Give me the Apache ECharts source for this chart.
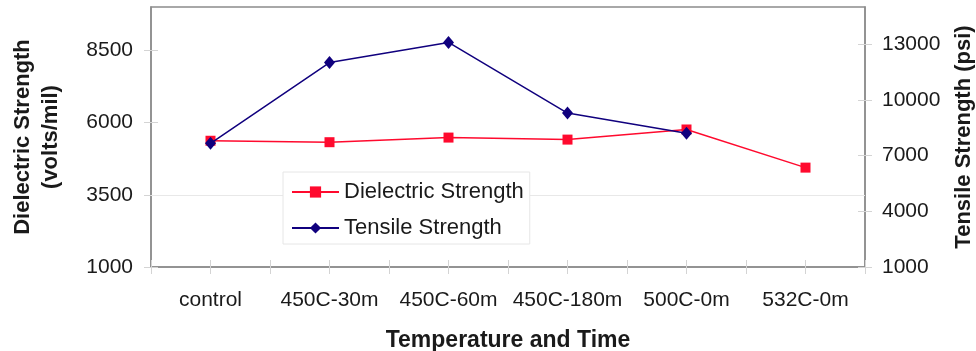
<!DOCTYPE html>
<html>
<head>
<meta charset="utf-8">
<script src="https://cdn.jsdelivr.net/npm/echarts@6/dist/echarts.min.js"></script>
<style>
  html, body { margin: 0; padding: 0; background: #fff; }
  #chart { width: 976px; height: 351px; }
</style>
</head>
<body>
<div id="chart"></div>
<script>
// Heat-treatment conditions along the x axis
const categories = ['control', '450C-30m', '450C-60m', '450C-180m', '500C-0m', '532C-0m'];
// Dielectric strength, volts/mil (left axis)
const dielectric = [5370, 5320, 5480, 5410, 5760, 4440];
// Tensile strength, psi (right axis); no value for the last condition
const tensile = [7660, 12010, 13090, 9290, 8200, null];
// Axis tick values
const leftTicks = [1000, 3500, 6000, 8500];
const rightTicks = [1000, 4000, 7000, 10000, 13000];
const gridLineValue = 3500;

const FONT = '"Liberation Sans", Arial, sans-serif';
const AXIS_GREY = '#8c8c8c';
const TICK_GREY = '#d4d4d4';
const TEXT = '#1a1a1a';
const RED = '#ff0a2e';
const NAVY = '#10007e';

const plain = v => String(v);

function xAxisTicks(alignCenter, inside) {
  return {
    type: 'category', data: categories, position: 'bottom', boundaryGap: true,
    axisLine: { show: false }, axisLabel: { show: false }, splitLine: { show: false },
    axisTick: { show: true, interval: 0, alignWithLabel: alignCenter, inside: inside,
                length: 7, lineStyle: { color: TICK_GREY, width: 1 } }
  };
}
function yAxisTicks(pos, min, max, interval, ticks) {
  return {
    type: 'value', position: pos, min: min, max: max, interval: interval,
    axisLine: { show: false }, axisLabel: { show: false }, splitLine: { show: false },
    axisTick: { show: true, inside: true, length: 7, customValues: ticks,
                lineStyle: { color: TICK_GREY, width: 1 } }
  };
}

const chart = echarts.init(document.getElementById('chart'), null, { renderer: 'canvas' });
chart.setOption({
  animation: false,
  backgroundColor: '#fff',
  textStyle: { fontFamily: FONT },
  grid: { left: 151, right: 111, top: 7, bottom: 84, show: true, outerBoundsMode: 'none',
          containLabel: false,
          borderColor: AXIS_GREY, borderWidth: 1.5, backgroundColor: 'transparent' },
  legend: {
    orient: 'vertical', left: 283, top: 172, z: 20,
    data: ['Dielectric Strength', 'Tensile Strength'],
    backgroundColor: '#fff', borderColor: '#e6e6e6', borderWidth: 1,
    padding: [8, 6, 4, 8], itemWidth: 47, itemHeight: 14, itemGap: 12,
    textStyle: { fontFamily: FONT, fontSize: 22, color: TEXT, lineHeight: 24 }
  },
  xAxis: [
    {
      type: 'category', data: categories, position: 'bottom', boundaryGap: true,
      axisLine: { show: true, lineStyle: { color: AXIS_GREY, width: 1.5 } },
      axisTick: { show: true, interval: 0, length: 7, lineStyle: { color: TICK_GREY, width: 1 } },
      axisLabel: { interval: 0, fontSize: 21, color: TEXT, fontFamily: FONT, margin: 23 },
      splitLine: { show: false },
      name: 'Temperature and Time', nameLocation: 'middle', nameGap: 62,
      nameTextStyle: { fontSize: 23, fontWeight: 'bold', color: TEXT, fontFamily: FONT }
    },
    xAxisTicks(false, true),
    xAxisTicks(true, false),
    xAxisTicks(true, true)
  ],
  yAxis: [
    {
      type: 'value', position: 'left', min: 1000, max: 10000, interval: 2500,
      axisLine: { show: true, lineStyle: { color: AXIS_GREY, width: 1.5 } },
      axisTick: { show: true, length: 7, customValues: leftTicks, lineStyle: { color: TICK_GREY, width: 1 } },
      axisLabel: { fontSize: 21, color: TEXT, fontFamily: FONT, margin: 18, customValues: leftTicks,
                   formatter: plain },
      splitLine: { show: false },
      name: 'Dielectric Strength\n(volts/mil)', nameLocation: 'middle', nameGap: 86, nameRotate: 90,
      nameTextStyle: { fontSize: 22, fontWeight: 'bold', color: TEXT, fontFamily: FONT,
                       lineHeight: 28, align: 'center' }
    },
    {
      type: 'value', position: 'right', min: 1000, max: 15000, interval: 3000,
      axisLine: { show: true, lineStyle: { color: AXIS_GREY, width: 1.5 } },
      axisTick: { show: true, length: 7, customValues: rightTicks, lineStyle: { color: TICK_GREY, width: 1 } },
      axisLabel: { fontSize: 21, color: TEXT, fontFamily: FONT, margin: 17, customValues: rightTicks,
                   formatter: plain },
      splitLine: { show: false },
      name: 'Tensile Strength (psi)', nameLocation: 'middle', nameGap: 88, nameRotate: 90,
      nameTextStyle: { fontSize: 22, fontWeight: 'bold', color: TEXT, fontFamily: FONT }
    },
    yAxisTicks('left', 1000, 10000, 2500, leftTicks),
    yAxisTicks('right', 1000, 15000, 3000, rightTicks)
  ],
  series: [
    {
      name: 'Dielectric Strength', type: 'line', xAxisIndex: 0, yAxisIndex: 0,
      data: dielectric, symbol: 'rect', symbolSize: 10,
      lineStyle: { color: RED, width: 1.5 }, itemStyle: { color: RED },
      markLine: {
        silent: true, symbol: 'none', label: { show: false }, z: 1,
        lineStyle: { color: '#e8e8e8', width: 1, type: 'solid' },
        data: [{ yAxis: gridLineValue }]
      },
      z: 3
    },
    {
      name: 'Tensile Strength', type: 'line', xAxisIndex: 0, yAxisIndex: 1,
      data: tensile, symbol: 'diamond', symbolSize: [11, 13],
      lineStyle: { color: NAVY, width: 1.5 }, itemStyle: { color: NAVY },
      z: 4
    }
  ]
});
</script>
</body>
</html>
